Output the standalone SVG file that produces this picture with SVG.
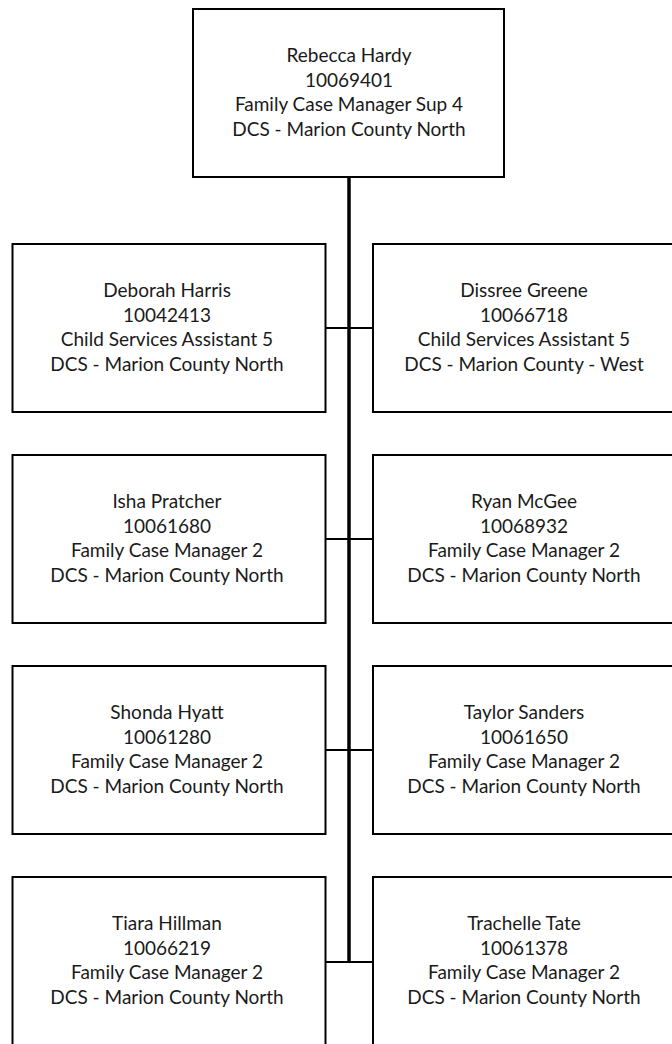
<svg xmlns="http://www.w3.org/2000/svg" width="672" height="1044" viewBox="0 0 672 1044">
  <style>
    .box { fill: #ffffff; stroke: #000000; stroke-width: 2; }
    .trunk { stroke: #000000; stroke-width: 3.5; fill: none; }
    .branch { stroke: #000000; stroke-width: 2; fill: none; }
    text { font-family: Lato, "Liberation Sans", sans-serif; font-size: 19px; fill: #1a1a1a; text-anchor: middle; }
  </style>
  <rect width="672" height="1044" fill="#ffffff"/>

  <!-- reporting lines -->
  <g id="connectors">
    <line class="trunk" x1="349" y1="177" x2="349" y2="962"/>
    <line class="branch" x1="325.5" y1="328" x2="373" y2="328"/>
    <line class="branch" x1="325.5" y1="539" x2="373" y2="539"/>
    <line class="branch" x1="325.5" y1="750" x2="373" y2="750"/>
    <line class="branch" x1="325.5" y1="962" x2="373" y2="962"/>
  </g>

  <g id="rebecca-hardy">
    <rect class="box" x="193" y="9" width="311" height="168"/>
    <text x="349" y="62">Rebecca Hardy</text>
    <text x="349" y="86.5">10069401</text>
    <text x="349" y="111">Family Case Manager Sup 4</text>
    <text x="349" y="135.5">DCS - Marion County North</text>
  </g>

  <g id="deborah-harris">
    <rect class="box" x="12.5" y="244" width="313" height="168"/>
    <text x="167" y="297">Deborah Harris</text>
    <text x="167" y="321.5">10042413</text>
    <text x="167" y="346">Child Services Assistant 5</text>
    <text x="167" y="370.5">DCS - Marion County North</text>
  </g>

  <g id="dissree-greene">
    <rect class="box" x="373" y="244" width="313" height="168"/>
    <text x="524" y="297">Dissree Greene</text>
    <text x="524" y="321.5">10066718</text>
    <text x="524" y="346">Child Services Assistant 5</text>
    <text x="524" y="370.5">DCS - Marion County - West</text>
  </g>

  <g id="isha-pratcher">
    <rect class="box" x="12.5" y="455" width="313" height="168"/>
    <text x="167" y="508">Isha Pratcher</text>
    <text x="167" y="532.5">10061680</text>
    <text x="167" y="557">Family Case Manager 2</text>
    <text x="167" y="581.5">DCS - Marion County North</text>
  </g>

  <g id="ryan-mcgee">
    <rect class="box" x="373" y="455" width="313" height="168"/>
    <text x="524" y="508">Ryan McGee</text>
    <text x="524" y="532.5">10068932</text>
    <text x="524" y="557">Family Case Manager 2</text>
    <text x="524" y="581.5">DCS - Marion County North</text>
  </g>

  <g id="shonda-hyatt">
    <rect class="box" x="12.5" y="666" width="313" height="168"/>
    <text x="167" y="719">Shonda Hyatt</text>
    <text x="167" y="743.5">10061280</text>
    <text x="167" y="768">Family Case Manager 2</text>
    <text x="167" y="792.5">DCS - Marion County North</text>
  </g>

  <g id="taylor-sanders">
    <rect class="box" x="373" y="666" width="313" height="168"/>
    <text x="524" y="719">Taylor Sanders</text>
    <text x="524" y="743.5">10061650</text>
    <text x="524" y="768">Family Case Manager 2</text>
    <text x="524" y="792.5">DCS - Marion County North</text>
  </g>

  <g id="tiara-hillman">
    <rect class="box" x="12.5" y="877" width="313" height="168"/>
    <text x="167" y="930">Tiara Hillman</text>
    <text x="167" y="954.5">10066219</text>
    <text x="167" y="979">Family Case Manager 2</text>
    <text x="167" y="1003.5">DCS - Marion County North</text>
  </g>

  <g id="trachelle-tate">
    <rect class="box" x="373" y="877" width="313" height="168"/>
    <text x="524" y="930">Trachelle Tate</text>
    <text x="524" y="954.5">10061378</text>
    <text x="524" y="979">Family Case Manager 2</text>
    <text x="524" y="1003.5">DCS - Marion County North</text>
  </g>
</svg>
